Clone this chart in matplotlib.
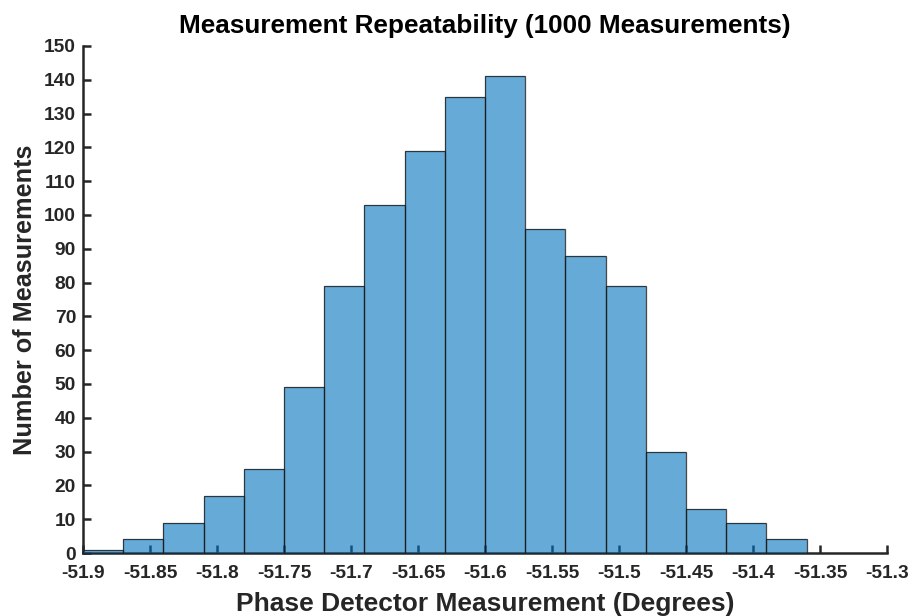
import matplotlib.pyplot as plt
import numpy as np

plt.rcParams['font.family'] = ['Liberation Sans', 'DejaVu Sans']
plt.rcParams['font.weight'] = 'bold'

# histogram of phase detector readings, bin width 0.03 deg
bin_start = -51.9
bin_width = 0.03
counts = [1, 4, 9, 17, 25, 49, 79, 103, 119, 135, 141, 96, 88, 79, 30, 13, 9, 4]
edges = bin_start + bin_width * np.arange(len(counts) + 1)

x_ticks = [-51.9, -51.85, -51.8, -51.75, -51.7, -51.65, -51.6, -51.55,
           -51.5, -51.45, -51.4, -51.35, -51.3]
x_labels = ['-51.9', '-51.85', '-51.8', '-51.75', '-51.7', '-51.65', '-51.6',
            '-51.55', '-51.5', '-51.45', '-51.4', '-51.35', '-51.3']

fig = plt.figure(figsize=(9.13, 6.16), dpi=100)
ax = fig.add_axes([83 / 913, 1 - 553 / 616, 804 / 913, 507 / 616])

# semi-transparent bars drawn over the axis lines, like the MATLAB default
ax.bar(edges[:-1], counts, width=bin_width, align='edge', color='#0072BD',
       alpha=0.6, edgecolor='none', zorder=3)
ax.bar(edges[:-1], counts, width=bin_width, align='edge', facecolor='none',
       edgecolor='#1a1a1a', linewidth=0.9, alpha=0.8, zorder=4)

ax.set_xlim(-51.9, -51.3)
ax.set_ylim(0, 150)
ax.set_xticks(x_ticks)
ax.set_xticklabels(x_labels)
ax.set_yticks(np.arange(0, 151, 10))

for s in ['top', 'right']:
    ax.spines[s].set_visible(False)
for s in ['left', 'bottom']:
    ax.spines[s].set_linewidth(1.8)
    ax.spines[s].set_color('#262626')
ax.set_axisbelow(True)
ax.tick_params(direction='in', length=6, width=1.8, color='#262626',
               labelsize=13.8, labelcolor='#262626')
ax.tick_params(axis='x', pad=8.5)
ax.tick_params(axis='y', pad=5)

ax.set_xlabel('Phase Detector Measurement (Degrees)', fontsize=19,
              fontweight='bold', color='#262626', labelpad=7)
ax.set_ylabel('Number of Measurements', fontsize=18.2, fontweight='bold',
              color='#262626', labelpad=5)
ax.set_title('Measurement Repeatability (1000 Measurements)', fontsize=18.8,
             fontweight='bold', pad=9)

fig.savefig('out.png', dpi=100)
